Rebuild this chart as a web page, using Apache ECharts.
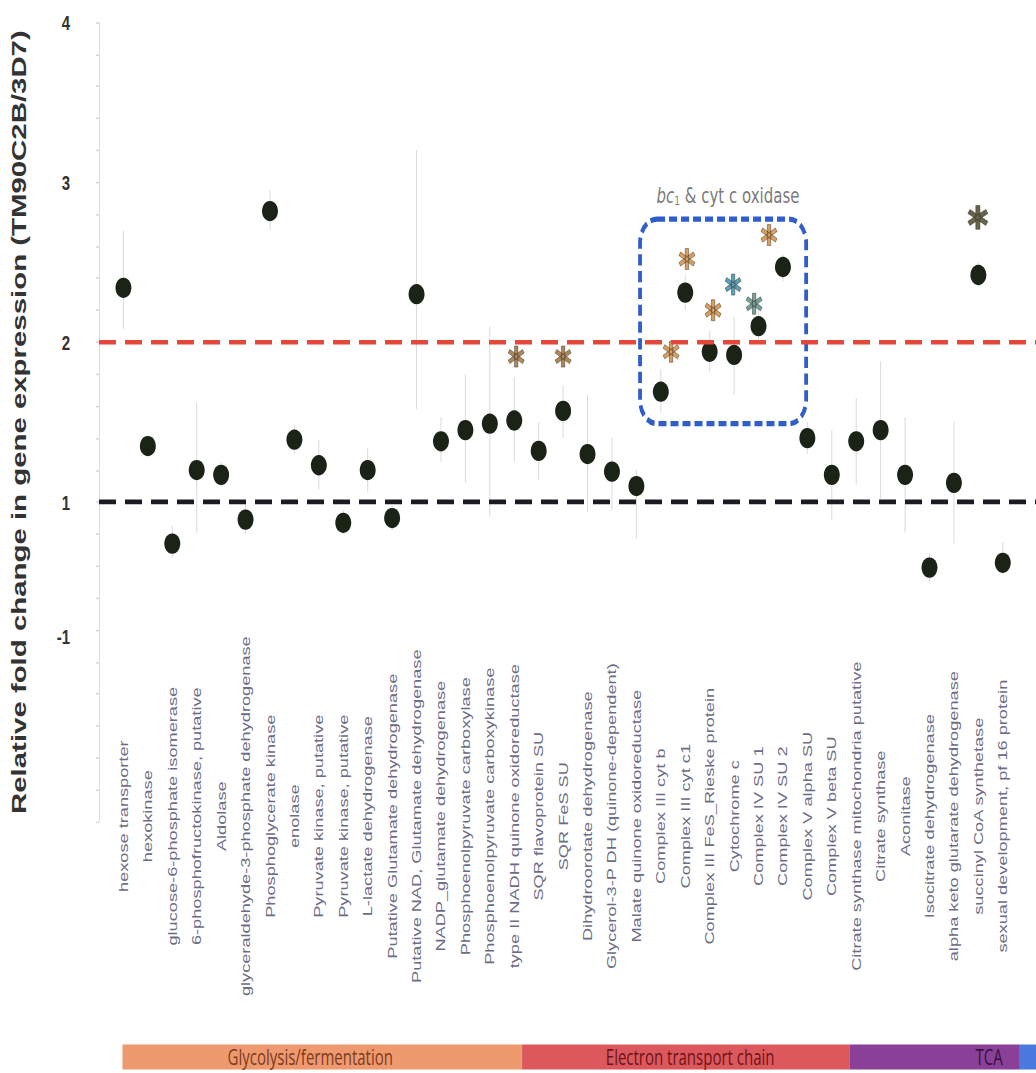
<!DOCTYPE html>
<html>
<head>
<meta charset="utf-8">
<script src="https://cdn.jsdelivr.net/npm/echarts@6/dist/echarts.min.js"></script>
<style>
  html { overflow: hidden; }
  body { margin: 0; padding: 0; background: #fff; height: 1073px; }
  /* the source figure is stretched vertically, so draw at 1/1.4 height and stretch */
  #main { width: 1036px; height: 766px; transform: scaleY(1.4); transform-origin: 0 0; }
</style>
</head>
<body>
<div id="main"></div>
<script>
const categories = [
  'hexose transporter', 'hexokinase', 'glucose-6-phosphate isomerase',
  '6-phosphofructokinase, putative', 'Aldolase', 'glyceraldehyde-3-phosphate dehydrogenase',
  'Phosphoglycerate kinase', 'enolase', 'Pyruvate kinase, putative', 'Pyruvate kinase, putative',
  'L-lactate dehydrogenase', 'Putative Glutamate dehydrogenase',
  'Putative NAD, Glutamate dehydrogenase', 'NADP_glutamate dehydrogenase',
  'Phosphoenolpyruvate carboxylase', 'Phosphoenolpyruvate carboxykinase',
  'type II NADH quinone oxidoreductase', 'SQR flavoprotein SU', 'SQR FeS SU',
  'Dihydroorotate dehydrogenase', 'Glycerol-3-P DH (quinone-dependent)',
  'Malate quinone oxidoreductase', 'Complex III cyt b', 'Complex III cyt c1',
  'Complex III FeS_Rieske protein', 'Cytochrome c', 'Complex IV SU 1', 'Complex IV SU 2',
  'Complex V alpha SU', 'Complex V beta SU', 'Citrate synthase mitochondria putative',
  'Citrate synthase', 'Aconitase', 'Isocitrate dehydrogenase',
  'alpha keto glutarate dehydrogenase', 'succinyl CoA synthetase',
  'sexual development, pf 16 protein'
];

const foldChange = [2.34, 1.35, 0.74, 1.20, 1.17, 0.89, 2.82, 1.39, 1.23, 0.87,
  1.20, 0.90, 2.30, 1.38, 1.45, 1.49, 1.51, 1.32, 1.57, 1.30,
  1.19, 1.10, 1.69, 2.31, 1.94, 1.92, 2.10, 2.47, 1.40, 1.17,
  1.38, 1.45, 1.17, 0.59, 1.12, 2.42, 0.62];
const errLow = [2.08, 1.30, 0.65, 0.81, 1.10, 0.80, 2.70, 1.30, 1.08, 0.80,
  1.06, 0.82, 1.58, 1.25, 1.12, 0.91, 1.25, 1.14, 1.40, 0.94,
  0.95, 0.77, 1.56, 2.20, 1.81, 1.67, 2.00, 2.38, 1.30, 0.89,
  1.11, 1.02, 0.81, 0.50, 0.74, 2.35, 0.55];
const errHigh = [2.70, 1.40, 0.85, 1.62, 1.25, 1.00, 2.95, 1.48, 1.39, 0.95,
  1.34, 0.98, 3.20, 1.53, 1.80, 2.10, 1.78, 1.50, 1.73, 1.67,
  1.40, 1.20, 1.83, 2.42, 2.07, 2.16, 2.20, 2.55, 1.50, 1.45,
  1.65, 1.88, 1.53, 0.68, 1.50, 2.50, 0.75];

// significance asterisks (x in gene-index units, value on the y scale)
const starX = [17.08, 19.0, 23.42, 24.07, 25.14, 25.96, 26.82, 27.43, 35.98];
const starValue = [1.91, 1.91, 1.94, 2.52, 2.20, 2.36, 2.24, 2.67, 2.78];
const starColors = ['#9a6a30', '#9a6a30', '#d08436', '#d08436', '#d08436', '#2f8aa8', '#4f8a86', '#d08436', '#3e3c1c'];

const yTickValues = [4, 3, 2, 1, 0.16];
const yTickLabels = ['4', '3', '2', '1', '-1'];
const refLines = [2, 1];

const boxX = [22.15, 28.95];
const boxY = [1.49, 2.77];
const boxNote = [25.75, 2.92];

const pathwayNames = ['Glycolysis/fermentation', 'Electron transport chain', 'TCA', ''];
const pathwayStart = [0.96, 17.32, 30.74, 37.7];
const pathwayEnd = [17.32, 30.74, 37.7, 38.36];
const pathwayText = [8.65, 24.2, 37.0, 38];
const pathwayAlign = ['center', 'center', 'right', 'center'];
const bandColors = ['#ef9a6e', '#dc585d', '#8a4096', '#4a7ae0'];
const bandTextColors = ['#7c3a1e', '#6e1418', '#36103e', '#fff'];

const X_MAX = 38.36;
const starPath = 'path://M-2,-10L2,-10L2,10L-2,10Z M7.66,6.73L-9.66,-3.27L-7.66,-6.73L9.66,3.27Z M9.66,-3.27L-7.66,6.73L-9.66,3.27L7.66,-6.73Z';

const chart = echarts.init(document.getElementById('main'), null, { renderer: 'svg' });

const option = {
  animation: false,
  backgroundColor: '#fff',
  textStyle: { fontFamily: 'Liberation Sans' },
  grid: [
    { left: 99, right: 0, top: 16, height: 571 },
    { left: 99, right: 0, top: 746, height: 18 }
  ],
  xAxis: [{
    type: 'value', min: 0, max: X_MAX, interval: 1,
    axisLine: { show: false }, axisTick: { show: false }, splitLine: { show: false },
    axisLabel: {
      rotate: 90, align: 'center', verticalAlign: 'middle', margin: -4,
      fontSize: 13, color: '#6c6c86',
      formatter: v => categories[Math.round(v) - 1] || ''
    }
  }, {
    type: 'value', gridIndex: 1, min: 0, max: X_MAX, show: false
  }],
  yAxis: [{
    type: 'value', min: -1, max: 4, interval: 0.2,
    name: 'Relative fold change in gene expression (TM90C2B/3D7)',
    nameLocation: 'middle', nameGap: 70, nameRotate: 90,
    nameTextStyle: { fontSize: 21, fontWeight: 'bold', color: '#333' },
    axisLine: { show: true, lineStyle: { color: '#dcdcdc', width: 1 } },
    axisTick: { show: true, length: 3, lineStyle: { color: '#d4d4d4' } },
    splitLine: { show: false },
    axisLabel: {
      customValues: yTickValues, margin: 29, fontSize: 15, fontWeight: 'bold', color: '#333',
      formatter: function (v) {
        const k = yTickValues.findIndex(t => Math.abs(t - v) < 1e-6);
        return k >= 0 ? yTickLabels[k] : '';
      }
    }
  }, {
    type: 'value', gridIndex: 1, min: 0, max: 1, show: false
  }],
  series: [
    {
      // error bars
      type: 'custom', z: 1, silent: true,
      data: foldChange.map((v, i) => [i + 1, errLow[i], errHigh[i]]),
      renderItem: function (params, api) {
        const lo = api.coord([api.value(0), api.value(1)]);
        const hi = api.coord([api.value(0), api.value(2)]);
        return {
          type: 'line',
          shape: { x1: lo[0], y1: lo[1], x2: hi[0], y2: hi[1] },
          style: { stroke: '#dadada', lineWidth: 1 }
        };
      }
    },
    {
      type: 'scatter', z: 3, silent: true,
      symbol: 'circle', symbolSize: [16, 14.5],
      itemStyle: { color: '#1b2317', opacity: 1 },
      data: foldChange.map((v, i) => [i + 1, v]),
      markLine: {
        silent: true, symbol: ['none', 'none'], label: { show: false },
        data: [
          { yAxis: refLines[0], lineStyle: { color: '#e6473b', width: 3.3, type: [17, 9] } },
          { yAxis: refLines[1], lineStyle: { color: '#1e1a24', width: 3.3, type: [17, 9] } }
        ]
      }
    },
    {
      type: 'scatter', z: 4, silent: true,
      symbol: starPath,
      data: starX.map((x, i) => ({
        value: [x, starValue[i]],
        symbolSize: i === starX.length - 1 ? [20, 17] : [16, 15],
        itemStyle: { color: starColors[i], borderColor: '#3a3428', borderWidth: 0.5 }
      }))
    },
    {
      // bc1 & cyt c oxidase box
      type: 'custom', z: 2, silent: true,
      data: [[boxX[0], boxY[0], boxX[1], boxY[1]]],
      renderItem: function (params, api) {
        const a = api.coord([api.value(0), api.value(3)]);
        const b = api.coord([api.value(2), api.value(1)]);
        return {
          type: 'rect',
          shape: { x: a[0], y: a[1], width: b[0] - a[0], height: b[1] - a[1], r: 17 },
          style: { fill: 'none', stroke: '#2f5dcc', lineWidth: 3.8, lineDash: [8, 4] }
        };
      }
    },
    {
      type: 'scatter', silent: true, symbolSize: 0,
      data: [boxNote],
      label: {
        show: true, position: 'inside',
        formatter: '{i|bc}{s|1}{t| & cyt c oxidase}',
        rich: {
          i: { fontFamily: 'DejaVu Sans', fontStyle: 'italic', fontSize: 15, color: '#555' },
          s: { fontFamily: 'DejaVu Sans', fontSize: 9, color: '#555', verticalAlign: 'bottom', padding: [8, 0, 0, 0] },
          t: { fontFamily: 'DejaVu Sans', fontSize: 15, color: '#555' }
        }
      }
    },
    {
      // pathway band
      type: 'custom', xAxisIndex: 1, yAxisIndex: 1, silent: true,
      data: pathwayStart.map((s, i) => [s, pathwayEnd[i], i]),
      renderItem: function (params, api) {
        const i = api.value(2);
        const a = api.coord([api.value(0), 1]);
        const b = api.coord([api.value(1), 0]);
        const t = api.coord([pathwayText[i], 0.5]);
        return {
          type: 'group',
          children: [
            { type: 'rect', shape: { x: a[0], y: a[1], width: b[0] - a[0], height: b[1] - a[1] },
              style: { fill: bandColors[i] } },
            { type: 'text', style: {
                text: pathwayNames[i], x: t[0], y: t[1], align: pathwayAlign[i], verticalAlign: 'middle',
                fill: bandTextColors[i], fontSize: 15, fontFamily: 'Open Sans'
            } }
          ]
        };
      }
    }
  ]
};

chart.setOption(option);
</script>
</body>
</html>
